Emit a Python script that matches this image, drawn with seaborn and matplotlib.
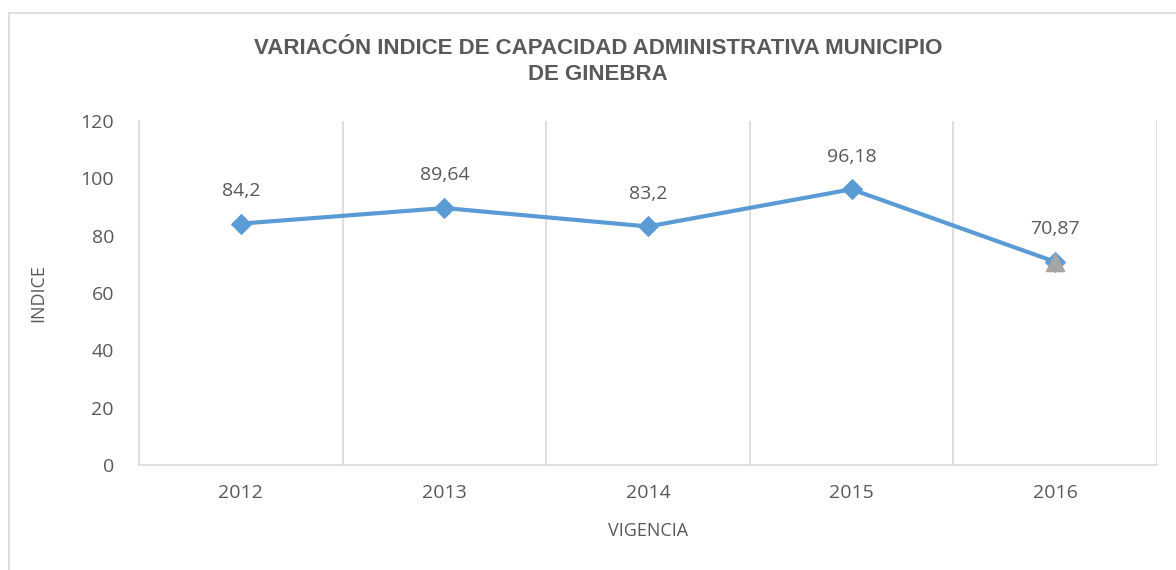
import pandas as pd
import seaborn as sns
import matplotlib.pyplot as plt
from matplotlib.patches import Rectangle

YEARS = ["2012", "2013", "2014", "2015", "2016"]
INDICE = [84.2, 89.64, 83.2, 96.18, 70.87]
LABELS = ["84,2", "89,64", "83,2", "96,18", "70,87"]

TITLE_LINES = ["VARIACÓN INDICE DE CAPACIDAD ADMINISTRATIVA MUNICIPIO", "DE GINEBRA"]

BLUE = "#5B9BD5"
GRAY_MARK = "#A5A5A5"
TEXT = "#595959"
GRID = "#D9D9D9"

df = pd.DataFrame({"pos": range(len(YEARS)), "vigencia": YEARS, "indice": INDICE})

sns.set_theme(style="white")
plt.rcParams["font.family"] = ["Open Sans", "DejaVu Sans"]

fig = plt.figure(figsize=(11.76, 5.70), dpi=100)
ax = fig.add_axes([139 / 1176, 105 / 570, 1018 / 1176, 344 / 570])

# chart frame like the excel chart area
fig.patches.append(Rectangle((9 / 1176, -0.05), 1.2, (570 - 13) / 570 + 0.05,
                             transform=fig.transFigure, fill=False,
                             edgecolor="#D9D9D9", linewidth=1.2))

sns.lineplot(data=df, x="pos", y="indice", ax=ax, color=BLUE, linewidth=3,
             marker="D", markersize=10, markeredgecolor=BLUE)
last = df.iloc[[-1]]
sns.scatterplot(data=last, x="pos", y="indice", ax=ax, marker="^", s=170,
                color=GRAY_MARK, edgecolor=GRAY_MARK, zorder=5)

for x, y, lab in zip(df["pos"], df["indice"], LABELS):
    ax.annotate(lab, (x, y), xytext=(0, 17), textcoords="offset points",
                ha="center", va="bottom", fontsize=14, color=TEXT)

ax.set_xlim(-0.5, len(YEARS) - 0.5)
ax.set_ylim(0, 120)
ax.set_yticks(range(0, 121, 20))
ax.set_xticks(df["pos"])
ax.set_xticklabels(YEARS)
ax.set_xticks([i + 0.5 for i in range(-1, len(YEARS))], minor=True)
ax.grid(False)
ax.grid(axis="x", which="minor", color=GRID, linewidth=1.2)
ax.tick_params(axis="both", which="both", length=0, labelsize=14, labelcolor=TEXT)
ax.tick_params(axis="x", pad=14)
ax.tick_params(axis="y", pad=18)
for side in ["top", "right"]:
    ax.spines[side].set_visible(False)
for side in ["left", "bottom"]:
    ax.spines[side].set_color(GRID)
    ax.spines[side].set_linewidth(1.2)

ax.set_xlabel("VIGENCIA", fontsize=13, color=TEXT, labelpad=14)
ax.set_ylabel("INDICE", fontsize=13, color=TEXT, labelpad=24)

for i, line in enumerate(TITLE_LINES):
    fig.text(598 / 1176, 1 - (48 + 27 * i) / 570, line, ha="center", va="center",
             fontsize=16, fontweight="bold", color=TEXT,
             family=["Liberation Sans", "DejaVu Sans"])

fig.savefig("out.png", dpi=100)
